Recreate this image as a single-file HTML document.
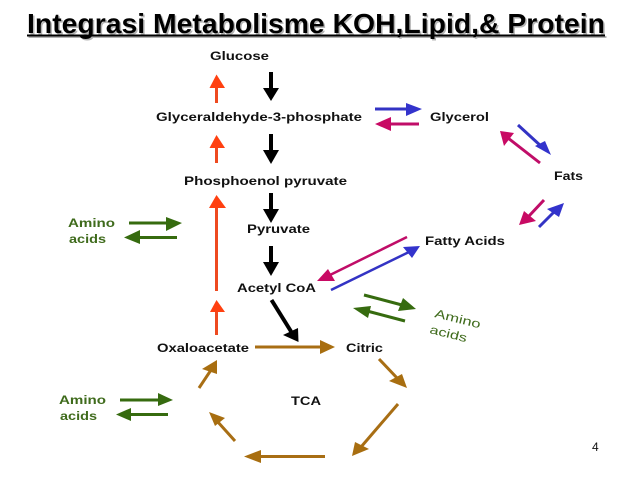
<!DOCTYPE html>
<html><head><meta charset="utf-8"><style>
html,body{margin:0;padding:0;background:#fff}
svg{display:block}
.t{font:bold 12px "Liberation Sans",sans-serif;fill:#111;stroke:none}
.g{font:bold 12px "Liberation Sans",sans-serif;fill:#3f6b1c;stroke:none}
.o line{stroke:#ee4a20}.o polygon{fill:#ff4010}
.k line{stroke:#000}.k polygon{fill:#000}
.b line{stroke:#3333c4}.b polygon{fill:#3333cc}
.c line{stroke:#c00d68}.c polygon{fill:#c80a64}
.v line{stroke:#366b0f}.v polygon{fill:#366b0f}
.r line{stroke:#a86e14}.r polygon{fill:#a86e10}
line{stroke-width:3}
</style></head><body>
<svg width="638" height="479" viewBox="0 0 638 479" xmlns="http://www.w3.org/2000/svg">
<rect width="638" height="479" fill="#fff"/>
<g fill="#b4b4b4"><text x="28.5" y="34.5" font-family="Liberation Sans" font-weight="bold" font-size="27.5" textLength="578" lengthAdjust="spacingAndGlyphs">Integrasi Metabolisme KOH,Lipid,&amp; Protein</text><rect x="28.5" y="36" width="578" height="2"/></g>
<g fill="#000"><text x="27" y="33" font-family="Liberation Sans" font-weight="bold" font-size="27.5" textLength="578" lengthAdjust="spacingAndGlyphs">Integrasi Metabolisme KOH,Lipid,&amp; Protein</text><rect x="27" y="34.5" width="578" height="2"/></g>

<g class="o">
<line x1="216.5" y1="86" x2="216.5" y2="103"/><polygon points="216.5,74.5 225,88 209.5,88"/>
<line x1="216.5" y1="146" x2="216.5" y2="163"/><polygon points="216.5,135 225,148 209.5,148"/>
<line x1="216.5" y1="206" x2="216.5" y2="291"/><polygon points="216.5,195 226,208 209,208"/>
<line x1="216.5" y1="310" x2="216.5" y2="335"/><polygon points="216.5,300 225,312 210,312"/>
</g>
<g class="k">
<line x1="271" y1="72" x2="271" y2="90" style="stroke-width:4"/><polygon points="263,88 279,88 271,101"/>
<line x1="271" y1="134" x2="271" y2="152" style="stroke-width:4"/><polygon points="263,150 279,150 271,164"/>
<line x1="271" y1="193" x2="271" y2="212" style="stroke-width:4"/><polygon points="263,209 279,209 271,223"/>
<line x1="271" y1="246" x2="271" y2="264" style="stroke-width:4"/><polygon points="263,262 279,262 271,276"/>
<line x1="271.5" y1="300" x2="292" y2="333" style="stroke-width:4"/><polygon points="298.5,342 283,335 298,328"/>
</g>
<g class="b">
<line x1="375" y1="109" x2="408" y2="109"/><polygon points="406,103 422,109 406,116"/>
<line x1="518" y1="125" x2="542" y2="147"/><polygon points="551,155 535,146 545,141"/>
<line x1="539" y1="227" x2="554" y2="212"/><polygon points="564,203 547,209 559,217"/>
<line x1="331" y1="290" x2="409" y2="252" style="stroke-width:2.5"/><polygon points="420,246 403,247 412,258"/>
</g>
<g class="c">
<line x1="419" y1="124" x2="389" y2="124"/><polygon points="375,124 391,117 391,131"/>
<line x1="540" y1="163" x2="508" y2="138"/><polygon points="500,131 514,133 504,146"/>
<line x1="544" y1="200" x2="529" y2="216"/><polygon points="519,225 524,211 536,221"/>
<line x1="407" y1="237" x2="330" y2="275" style="stroke-width:2.5"/><polygon points="317,281 328,269 335,281"/>
</g>
<g class="v">
<line x1="129" y1="223" x2="168" y2="223"/><polygon points="166,217 182,223 166,231"/>
<line x1="177" y1="237.5" x2="138" y2="237.5"/><polygon points="124,237.5 140,230 140,244"/>
<line x1="120" y1="400" x2="160" y2="400"/><polygon points="158,393 173,400 158,406"/>
<line x1="168" y1="414.5" x2="130" y2="414.5"/><polygon points="116,414.5 131,408 131,421"/>
<line x1="364" y1="295" x2="402" y2="305"/><polygon points="416,309 403,298 398,311"/>
<line x1="405" y1="321" x2="367" y2="311"/><polygon points="353,308 371,306 368,318"/>
</g>
<g class="r">
<line x1="255" y1="347" x2="322" y2="347"/><polygon points="320,340 335,347 320,354"/>
<line x1="379" y1="359" x2="398" y2="379"/><polygon points="407,388 389,381 402,374"/>
<line x1="398" y1="404" x2="361" y2="447"/><polygon points="352,456 355,442 369,449"/>
<line x1="325" y1="456.5" x2="259" y2="456.5"/><polygon points="244,456.5 261,450 261,463"/>
<line x1="235" y1="441" x2="217" y2="421"/><polygon points="209,412 225,418 215,426"/>
<line x1="199" y1="388" x2="211" y2="370"/><polygon points="217,360 202,369 217,374"/>
</g>

<text class="t" x="210" y="60" textLength="59" lengthAdjust="spacingAndGlyphs">Glucose</text>
<text class="t" x="156" y="121" textLength="206" lengthAdjust="spacingAndGlyphs">Glyceraldehyde-3-phosphate</text>
<text class="t" x="430" y="121" textLength="59" lengthAdjust="spacingAndGlyphs">Glycerol</text>
<text class="t" x="184" y="185" textLength="163" lengthAdjust="spacingAndGlyphs">Phosphoenol pyruvate</text>
<text class="t" x="247" y="233" textLength="63" lengthAdjust="spacingAndGlyphs">Pyruvate</text>
<text class="t" x="554" y="180" textLength="29" lengthAdjust="spacingAndGlyphs">Fats</text>
<text class="t" x="425" y="245" textLength="80" lengthAdjust="spacingAndGlyphs">Fatty Acids</text>
<text class="t" x="237" y="292" textLength="79" lengthAdjust="spacingAndGlyphs">Acetyl CoA</text>
<text class="t" x="157" y="352" textLength="92" lengthAdjust="spacingAndGlyphs">Oxaloacetate</text>
<text class="t" x="346" y="352" textLength="37" lengthAdjust="spacingAndGlyphs">Citric</text>
<text class="t" x="291" y="405" textLength="30" lengthAdjust="spacingAndGlyphs">TCA</text>
<text class="g" x="68" y="227" textLength="47" lengthAdjust="spacingAndGlyphs">Amino</text>
<text class="g" x="69" y="243" textLength="37" lengthAdjust="spacingAndGlyphs">acids</text>
<text class="g" x="59" y="404" textLength="47" lengthAdjust="spacingAndGlyphs">Amino</text>
<text class="g" x="60" y="420" textLength="37" lengthAdjust="spacingAndGlyphs">acids</text>
<text class="g" style="font-weight:normal" transform="translate(434,317) rotate(14)" textLength="47" lengthAdjust="spacingAndGlyphs">Amino</text>
<text class="g" style="font-weight:normal" transform="translate(429,333) rotate(14)" textLength="38" lengthAdjust="spacingAndGlyphs">acids</text>
<text x="592" y="451" font-family="Liberation Sans" font-size="12" fill="#111">4</text>
</svg>
</body></html>
